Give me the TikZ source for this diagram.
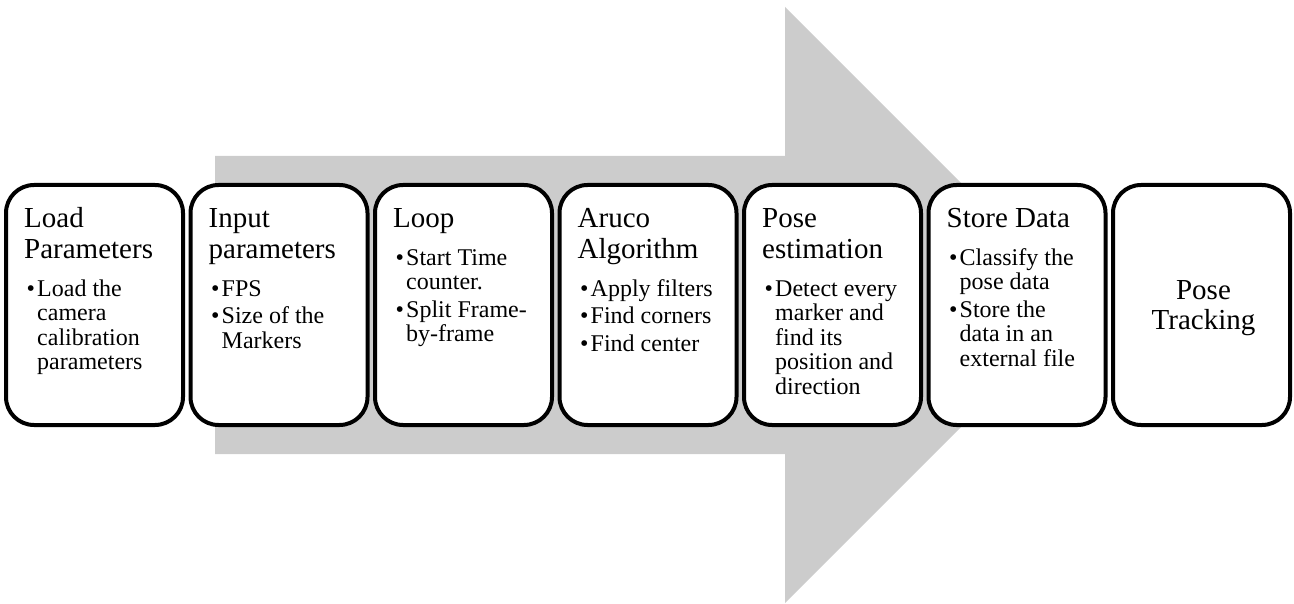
\documentclass[tikz,border=0pt]{standalone}
\usepackage{fontspec}
\setmainfont{Liberation Serif}
\definecolor{arrowgray}{HTML}{CCCCCC}

% box title, bullet items and the text block inside a step box
\newcommand{\boxtitle}[1]{{\fontsize{29}{30.7}\selectfont #1\par}\vspace{13.5pt}}
\newcommand{\bulitem}[1]{\hangindent=13pt\hangafter=1\noindent\makebox[13pt][l]{\hspace{2.5pt}•}#1\par}
\newcommand{\bulgap}{\vspace{3pt}}
\newcommand{\steptext}[1]{\begin{minipage}[t]{155pt}\parindent=0pt\fontsize{24}{24.5}\selectfont #1\end{minipage}}

\tikzset{
  stepbox/.style={draw=black, line width=4pt, rounded corners=28pt, fill=white,
    minimum width=177pt, minimum height=240pt, inner sep=0pt},
  boxtext/.style={anchor=base west, inner sep=0pt},
}

\begin{document}
\begin{tikzpicture}[x=1pt, y=-1pt]
  \useasboundingbox (0,0) rectangle (1294,604);

  % large background arrow
  \fill[arrowgray] (215,156) -- (785,156) -- (785,7) -- (1083,305)
    -- (785,603) -- (785,454) -- (215,454) -- cycle;

  % the seven steps
  \foreach \i in {1,...,7} {
    \node[stepbox] (b\i) at ({94.5+(\i-1)*184.5},305) {};
  }

  \node[boxtext] (t1) at ([xshift=20pt,yshift=-44.5pt]b1.north west) {\steptext{%
    \boxtitle{Load\newline Parameters}
    \bulitem{Load the\newline camera\newline calibration\newline parameters}}};

  \node[boxtext] (t2) at ([xshift=20pt,yshift=-44.5pt]b2.north west) {\steptext{%
    \boxtitle{Input\newline parameters}
    \bulitem{FPS}\bulgap
    \bulitem{Size of the\newline Markers}}};

  \node[boxtext] (t3) at ([xshift=20pt,yshift=-44.5pt]b3.north west) {\steptext{%
    \boxtitle{Loop}
    \bulitem{Start Time\newline counter.}\bulgap
    \bulitem{Split Frame-\newline by-frame}}};

  \node[boxtext] (t4) at ([xshift=20pt,yshift=-44.5pt]b4.north west) {\steptext{%
    \boxtitle{Aruco\newline Algorithm}
    \bulitem{Apply filters}\bulgap
    \bulitem{Find corners}\bulgap
    \bulitem{Find center}}};

  \node[boxtext] (t5) at ([xshift=20pt,yshift=-44.5pt]b5.north west) {\steptext{%
    \boxtitle{Pose\newline estimation}
    \bulitem{Detect every\newline marker and\newline find its\newline position and\newline direction}}};

  \node[boxtext] (t6) at ([xshift=20pt,yshift=-44.5pt]b6.north west) {\steptext{%
    \boxtitle{Store Data}
    \bulitem{Classify the\newline pose data}\bulgap
    \bulitem{Store the\newline data in an\newline external file}}};

  \node[align=center, inner sep=0pt, font=\fontsize{29}{30}\selectfont]
    (t7) at ([xshift=2pt,yshift=-3pt]b7.center) {Pose\\Tracking};
\end{tikzpicture}
\end{document}
